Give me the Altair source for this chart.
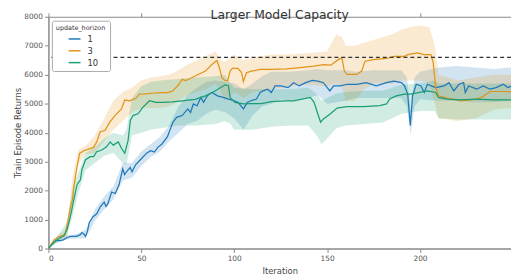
import altair as alt
import pandas as pd

TITLE = "Larger Model Capacity"
SERIES = ["1", "3", "10"]
COLORS = ["#1f77b8", "#e0951a", "#1a9e74"]
REF_LINE = 6600
X_TICKS = [0, 50, 100, 150, 200]
Y_TICKS = [0, 1000, 2000, 3000, 4000, 5000, 6000, 7000, 8000]

# mean curves (iteration, return)
BLUE = [(0,0),(2,150),(4,280),(6,270),(8,300),(10,380),(12,420),(15,420),(17,470),(18,550),(19,500),(20,420),(21,600),(22,900),(24,1100),(26,1200),(28,1450),(30,1600),(31,1450),(32,1550),(34,1950),(36,1900),(38,2200),(40,2750),(41,2550),(42,2650),(44,2800),(45,2650),(47,2900),(50,3100),(53,3300),(55,3380),(57,3330),(59,3500),(61,3600),(64,3850),(67,4360),(69,4530),(72,4590),(75,4820),(76.5,4700),(78,4990),(80,4930),(82,5215),(83.5,5045),(85.5,5270),(88,5390),(91,5270),(94,5215),(97,5160),(100,5100),(102,5045),(105,4820),(107,5045),(109,5100),(112,5160),(114,5385),(115.5,5440),(118,5500),(120,5385),(122,5613),(125,5613),(129,5555),(132,5725),(135,5613),(138.5,5725),(142,5805),(145,5780),(148,5725),(151.5,5440),(153.5,5613),(157,5613),(161,5670),(166,5670),(171,5725),(176.5,5613),(182,5725),(186,5780),(190,5725),(191.7,5613),(193.4,5330),(194.8,4250),(196,5270),(198,5670),(200.5,5613),(202.3,5385),(204,5670),(206,5613),(208.5,5555),(213,5613),(215.6,5725),(218.2,5440),(221,5670),(223.5,5725),(224.4,5385),(226.2,5613),(230.6,5500),(234,5613),(237.7,5500),(241,5555),(244.8,5670),(247.4,5555),(249,5600)]
ORANGE = [(0,0),(3,300),(5,400),(9,480),(12,1465),(13,1700),(13.7,2147),(15.4,2830),(16.8,3285),(19,3375),(22,3440),(24.3,3490),(26,3680),(27.8,4022),(30.5,4080),(33,4362),(35.8,4590),(39.3,4818),(41.1,5125),(43.8,5100),(47.3,5193),(49,5330),(52,5340),(56,5360),(60,5380),(64,5385),(66.8,5430),(70.3,5670),(72,5840),(73.9,5800),(79,5954),(84.5,6125),(88,6350),(90.7,6490),(92,6250),(93.4,5900),(95,5805),(96.5,5800),(97.8,6125),(99,6215),(102,6215),(104,6070),(104.9,5760),(106.6,6070),(109.3,6125),(114,6180),(120,6180),(128,6200),(134,6237),(143,6295),(148,6350),(152,6330),(156,6520),(158,6580),(159.3,6125),(160.7,6010),(166,6010),(168.6,6125),(170.4,6465),(174.8,6520),(182,6560),(186,6635),(191.7,6635),(193.4,6690),(198.7,6750),(202,6690),(205.8,6690),(207,6465),(208.5,5555),(210,5270),(214.7,5190),(221.8,5100),(226,5120),(230.6,5160),(234,5250),(237.7,5420),(242,5420),(246.6,5420),(249,5400)]
GREEN = [(0,0),(3,218),(5.7,354),(8.3,443),(10.1,670),(11.9,1125),(13.7,1694),(15.4,2205),(17.2,2375),(18,2716),(19.9,3057),(22.5,3170),(24.3,3170),(26,3340),(28.7,3400),(31.3,3510),(33.2,3680),(34.9,3570),(37.6,3680),(39.3,3460),(41.1,3285),(42.9,3740),(44.1,4420),(45.5,4590),(48.2,4650),(50.8,4875),(54.4,5100),(57.9,5045),(61.5,5045),(66.8,5060),(72,5100),(79,5150),(84.5,5270),(89.7,5440),(95.1,5650),(96.9,5620),(97.8,5215),(100.4,5045),(104.9,4990),(109.3,5000),(114.6,5000),(120,5070),(128,5100),(132,5100),(141,5215),(143,5045),(144.7,4705),(146.5,4362),(148,4475),(151.8,4650),(155.4,4850),(160.7,4900),(169.5,4900),(178.4,4930),(182,4990),(183.7,5160),(187.2,5270),(191.7,5330),(195,5330),(204,5440),(208.5,5385),(210,5215),(214.7,5160),(221.8,5130),(230.6,5160),(239.5,5130),(249,5130)]

# confidence bands (iteration, low, high)
BLUE_BAND = [(0,0,0),(5,200,350),(10,320,450),(15,350,500),(20,350,650),(25,950,1350),(30,1350,1800),(35,1700,2150),(40,2350,2950),(45,2450,2950),(50,2850,3350),(55,3150,3600),(60,3350,3850),(65,3700,4250),(70,4000,4900),(75,4300,5300),(80,4400,5550),(85,4650,5750),(90,4800,5800),(95,4700,5750),(100,4500,5700),(105,4100,5500),(110,4600,5700),(115,4900,5950),(120,5000,6100),(125,5150,6100),(130,5100,6100),(140,5200,6150),(145,5300,6200),(150,5000,6150),(160,5100,6150),(165,5200,6100),(175,5200,6150),(185,5200,6150),(190,5200,6150),(193,4900,5900),(195,3900,4700),(197,4900,5900),(200,5150,6100),(210,5100,6250),(220,5100,6300),(230,5050,6250),(240,5050,6200),(249,5100,6250)]
ORANGE_BAND = [(0,0,0),(5,300,450),(10,400,700),(13,1600,2500),(16,2900,3400),(20,3250,3550),(25,3300,3900),(30,3700,4500),(35,4100,5100),(40,4400,5400),(45,4700,5550),(50,4850,5800),(55,4850,5900),(60,4850,5950),(65,4900,6000),(70,5100,6150),(75,5300,6350),(80,5400,6500),(85,5500,6650),(90,5700,6800),(93,5400,6500),(95,5100,6450),(100,5400,6700),(105,5200,6500),(110,5400,6600),(120,5500,6700),(130,5600,6700),(140,5650,6750),(150,5600,6800),(155,5700,7400),(158,5600,7300),(160,5100,7000),(165,5100,7000),(170,5500,7100),(175,5700,7200),(180,5700,7300),(185,5700,7400),(190,5800,7550),(195,5800,7650),(200,5800,7700),(205,5700,7650),(208,5000,7000),(210,4500,6000),(215,4450,5900),(220,4400,5800),(230,4500,5900),(240,4800,6000),(249,4850,6000)]
GREEN_BAND = [(0,0,0),(5,250,450),(10,450,900),(13,1100,2100),(16,1900,2600),(20,2700,3300),(25,2950,3500),(30,3200,3800),(35,3300,4000),(40,2950,3900),(42,2900,4100),(45,3900,5200),(50,4000,5600),(55,4100,5750),(60,4150,5800),(70,4250,5850),(80,4250,5900),(90,4300,5950),(95,4400,6000),(98,4300,5700),(100,4100,5550),(110,4100,5500),(120,4200,5500),(130,4250,5500),(140,4250,5550),(145,3850,5300),(147,3600,5100),(150,3800,5200),(155,4150,5350),(160,4250,5400),(170,4300,5450),(180,4350,5450),(185,4500,5550),(190,4650,5650),(200,4750,5700),(208,4750,5800),(210,4500,5700),(220,4450,5700),(230,4450,5700),(240,4450,5700),(249,4450,5700)]

means = {"1": BLUE, "3": ORANGE, "10": GREEN}
bands = {"1": BLUE_BAND, "3": ORANGE_BAND, "10": GREEN_BAND}

line_rows = []
for s in SERIES:
    for it, v in means[s]:
        line_rows.append({"series": s, "iter": it, "value": v})
band_rows = []
for s in SERIES:
    for it, lo, hi in bands[s]:
        band_rows.append({"series": s, "iter": it, "lo": lo, "hi": hi})
df_line = pd.DataFrame(line_rows)
df_band = pd.DataFrame(band_rows)

xscale = alt.Scale(domain=[0, 249], nice=False, zero=False)
yscale = alt.Scale(domain=[0, 8000], nice=False)
cscale = alt.Scale(domain=SERIES, range=COLORS)

label_col = "#555555"
axis_col = "#888888"

x_axis = alt.Axis(orient="bottom", values=X_TICKS, grid=False, title="Iteration", labelFontSize=7.5,
                  labelColor=label_col, tickColor=axis_col, domainColor=axis_col, format="d",
                  tickSize=4, labelPadding=2, titleFontSize=8.5, titleFontWeight="normal",
                  titleColor="#444444", titlePadding=5, labelFont="DejaVu Sans", titleFont="DejaVu Sans")
y_axis = alt.Axis(orient="left", values=Y_TICKS, grid=False, title="Train Episode Returns", format="d",
                  labelFontSize=7.5, labelColor=label_col, tickColor=axis_col, domainColor=axis_col,
                  tickSize=4, labelPadding=2, titleFontSize=8.5, titleFontWeight="normal",
                  titleColor="#444444", titlePadding=1, labelFont="DejaVu Sans", titleFont="DejaVu Sans")

legend = alt.Legend(title="update_horizon", orient="none", legendX=3.5, legendY=4,
                    symbolType="stroke", symbolSize=144, symbolStrokeWidth=1.5, symbolOpacity=1,
                    titleFontSize=6.5, titleFontWeight="normal", titleColor="#333333",
                    labelFontSize=8.5, labelColor="#333333", titlePadding=1,
                    labelOffset=6, symbolOffset=12, rowPadding=0, padding=4,
                    fillColor="white", strokeColor="#aaaaaa", cornerRadius=2,
                    titleFont="DejaVu Sans", labelFont="DejaVu Sans")

areas = alt.Chart(df_band).mark_area(opacity=0.2, clip=True).encode(
    x=alt.X("iter:Q", scale=xscale, axis=x_axis),
    y=alt.Y("lo:Q", scale=yscale, axis=y_axis),
    y2="hi:Q",
    color=alt.Color("series:N", scale=cscale, sort=SERIES, legend=legend),
)

lines = alt.Chart(df_line).mark_line(strokeWidth=1.25, clip=True).encode(
    x=alt.X("iter:Q", scale=xscale, axis=None),
    y=alt.Y("value:Q", scale=yscale, axis=None),
    color=alt.Color("series:N", scale=cscale, sort=SERIES, legend=legend),
)

rule = alt.Chart(pd.DataFrame({"y": [REF_LINE]})).mark_rule(
    color="#333333", strokeDash=[4, 3], strokeWidth=1.4
).encode(y=alt.Y("y:Q", scale=yscale, axis=None))

frame_axes = alt.Chart(df_line).mark_point(opacity=0).encode(
    x=alt.X("iter:Q", scale=xscale,
            axis=alt.Axis(orient="top", values=X_TICKS, labels=False, title=None, grid=False,
                          domain=False, tickColor=axis_col, tickSize=4)),
    y=alt.Y("value:Q", scale=yscale,
            axis=alt.Axis(orient="right", values=Y_TICKS, labels=False, title=None,
                          grid=False, domain=False, tickColor=axis_col, tickSize=4)),
)

chart = alt.layer(areas, lines, rule, frame_axes).resolve_axis(
    x="independent", y="independent"
).properties(
    width=469, height=235, autosize="none",
    padding={"left": 41, "top": 7, "right": 0, "bottom": 28},
    title=alt.TitleParams(TITLE, fontSize=12.5, fontWeight="normal", color="#333333",
                          font="DejaVu Sans", anchor="middle", offset=-9),
).configure_view(stroke=axis_col, strokeWidth=1)

chart.save("out.html", embed_options={"renderer": "svg", "actions": False})
